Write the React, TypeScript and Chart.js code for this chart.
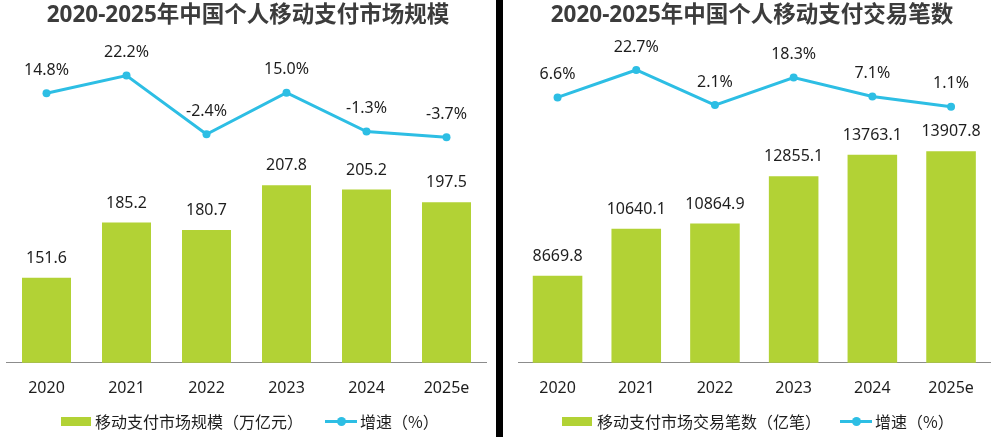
import React, { useEffect, useRef } from "react";
import { Chart, registerables } from "chart.js";

Chart.register(...registerables);

// Shared categories
const years = ["2020", "2021", "2022", "2023", "2024", "2025e"];

// Panel 1: market scale (万亿元) and growth (%)
const marketScale = [151.6, 185.2, 180.7, 207.8, 205.2, 197.5];
const marketScaleGrowth = [14.8, 22.2, -2.4, 15.0, -1.3, -3.7];

// Panel 2: transaction count (亿笔) and growth (%)
const txnCount = [8669.8, 10640.1, 10864.9, 12855.1, 13763.1, 13907.8];
const txnCountGrowth = [6.6, 22.7, 2.1, 18.3, 7.1, 1.1];

const GREEN = "#b2d235";
const BLUE = "#2dbee4";
const TEXT = "#1e1e1e";
const FONT = '"Noto Sans", "Noto Sans CJK SC", sans-serif';
const CJK_FONT = '"Noto Sans CJK SC", "Noto Sans", sans-serif';

type PanelProps = {
  left: number;
  title: string;
  barLabel: string;
  lineLabel: string;
  values: number[];
  growth: number[];
  yMin: number;
  yMax: number;
  y1Min: number;
  y1Max: number;
  padLeft: number;
  padRight: number;
  barPercentage: number;
  legendBoxX: number;
  legendTextX: number;
  legendLineX: number;
  legendLineTextX: number;
};

const valueLabels = {
  id: "valueLabels",
  afterDatasetsDraw(chart: any) {
    const ctx = chart.ctx;
    ctx.save();
    ctx.font = `16px ${FONT}`;
    ctx.fillStyle = TEXT;
    ctx.textAlign = "center";
    ctx.textBaseline = "middle";
    chart.data.datasets.forEach((ds: any, i: number) => {
      const meta = chart.getDatasetMeta(i);
      const isLine = ds.type === "line";
      meta.data.forEach((el: any, j: number) => {
        const v = ds.data[j] as number;
        const text = isLine ? `${v.toFixed(1)}%` : v.toFixed(1);
        ctx.fillText(text, el.x, el.y - (isLine ? 23 : 19.5));
      });
    });
    ctx.restore();
  },
};

function Panel(p: PanelProps) {
  const ref = useRef<HTMLCanvasElement | null>(null);

  useEffect(() => {
    if (!ref.current) return;
    const chart = new Chart(ref.current, {
      data: {
        labels: years,
        datasets: [
          {
            type: "line",
            label: p.lineLabel,
            data: p.growth,
            yAxisID: "y1",
            borderColor: BLUE,
            backgroundColor: BLUE,
            borderWidth: 3,
            pointRadius: 4,
            pointHoverRadius: 4,
            pointBorderWidth: 0,
            tension: 0,
            order: 0,
          },
          {
            type: "bar",
            label: p.barLabel,
            data: p.values,
            yAxisID: "y",
            backgroundColor: GREEN,
            barPercentage: p.barPercentage,
            categoryPercentage: 1,
            order: 1,
          },
        ],
      } as any,
      options: {
        responsive: false,
        animation: false,
        layout: { padding: { left: p.padLeft, right: p.padRight, top: 40, bottom: 23 } },
        plugins: {
          legend: { display: false },
          tooltip: { enabled: false },
          title: { display: false },
        },
        scales: {
          x: {
            grid: { display: false, drawTicks: false },
            border: { display: true, color: "#8c8c8c", width: 1 },
            ticks: { color: TEXT, font: { size: 16, family: FONT }, padding: 16 },
          },
          y: { display: false, min: p.yMin, max: p.yMax },
          y1: { display: false, min: p.y1Min, max: p.y1Max },
        },
      } as any,
      plugins: [valueLabels],
    });
    return () => chart.destroy();
  }, []);

  const legendText: React.CSSProperties = {
    position: "absolute",
    top: 410,
    font: `16px ${CJK_FONT}`,
    lineHeight: "22px",
    color: TEXT,
    whiteSpace: "nowrap",
  };

  return (
    <div style={{ position: "absolute", left: p.left, top: 0, width: 496, height: 437 }}>
      <canvas ref={ref} width={496} height={437} style={{ position: "absolute", left: 0, top: 0 }} />
      <div
        style={{
          position: "absolute",
          left: 0,
          width: 496,
          top: 1,
          textAlign: "center",
          font: `bold 22.5px ${FONT}`,
          lineHeight: "26px",
          color: "#3c3c3c",
          whiteSpace: "nowrap",
        }}
      >
        {p.title}
      </div>
      <div
        style={{
          position: "absolute",
          left: p.legendBoxX,
          top: 417,
          width: 30,
          height: 9,
          background: GREEN,
        }}
      />
      <div style={{ ...legendText, left: p.legendTextX }}>{p.barLabel}</div>
      <div
        style={{
          position: "absolute",
          left: p.legendLineX,
          top: 420,
          width: 32,
          height: 3,
          background: BLUE,
        }}
      />
      <div
        style={{
          position: "absolute",
          left: p.legendLineX + 12,
          top: 417,
          width: 9,
          height: 9,
          borderRadius: "50%",
          background: BLUE,
        }}
      />
      <div style={{ ...legendText, left: p.legendLineTextX }}>{p.lineLabel}</div>
    </div>
  );
}

export default function App() {
  return (
    <div
      style={{
        position: "absolute",
        left: 0,
        top: 0,
        width: 1000,
        height: 437,
        background: "#ffffff",
        overflow: "hidden",
      }}
    >
      <Panel
        left={0}
        title="2020-2025年中国个人移动支付市场规模"
        barLabel="移动支付市场规模（万亿元）"
        lineLabel="增速（%）"
        values={marketScale}
        growth={marketScaleGrowth}
        yMin={100}
        yMax={296}
        y1Min={-98.2}
        y1Max={37.1}
        padLeft={6.5}
        padRight={9.5}
        barPercentage={0.6125}
        legendBoxX={61}
        legendTextX={95}
        legendLineX={325}
        legendLineTextX={360}
      />
      <Panel
        left={504}
        title="2020-2025年中国个人移动支付交易笔数"
        barLabel="移动支付市场交易笔数（亿笔）"
        lineLabel="增速（%）"
        values={txnCount}
        growth={txnCountGrowth}
        yMin={5000}
        yMax={18591}
        y1Min={-149.2}
        y1Max={40.3}
        padLeft={14.2}
        padRight={9.6}
        barPercentage={0.63}
        legendBoxX={58}
        legendTextX={93}
        legendLineX={336}
        legendLineTextX={371}
      />
      <div style={{ position: "absolute", left: 496, top: 0, width: 7, height: 437, background: "#000" }} />
    </div>
  );
}
